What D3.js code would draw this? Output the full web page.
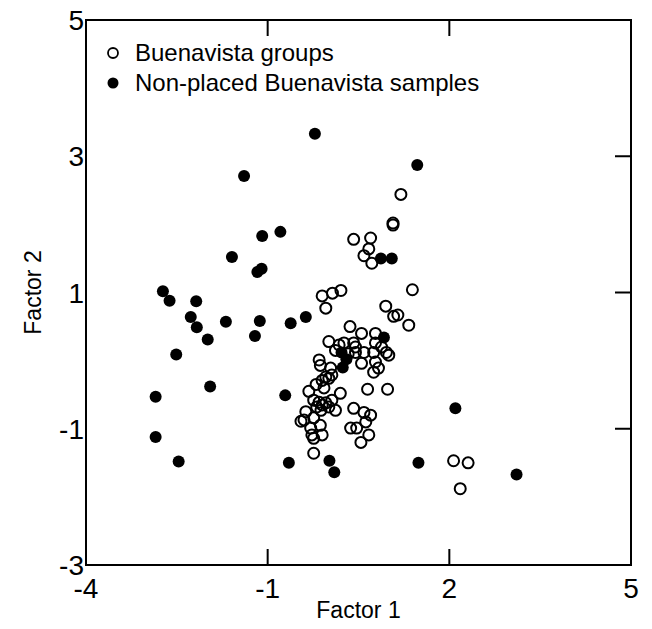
<!DOCTYPE html>
<html>
<head>
<meta charset="utf-8">
<script src="https://cdn.jsdelivr.net/npm/d3@7"></script>
<style>
  body { margin: 0; background: #fff; }
  svg { font-family: "Liberation Sans", Arial, sans-serif; }
</style>
</head>
<body>
<svg id="chart" width="652" height="629"></svg>
<script>
// Factor scores: [factor1, factor2]
const groupSamples = [
  [1.20, 2.44], [1.07, 2.02], [1.07, 1.99], [0.42, 1.78], [0.70, 1.80],
  [0.67, 1.64], [0.59, 1.54], [0.72, 1.43], [1.39, 1.04],
  [-0.10, 0.95], [0.07, 0.99], [0.21, 1.03], [-0.04, 0.77], [0.95, 0.80],
  [1.08, 0.65], [1.15, 0.67], [1.33, 0.52], [0.36, 0.50], [0.55, 0.40], [0.78, 0.40],
  [0.01, 0.28], [0.18, 0.23], [0.26, 0.26], [0.12, 0.15], [0.45, 0.20], [0.42, 0.26],
  [0.45, 0.12], [0.59, 0.12], [0.78, 0.26], [0.75, 0.12], [0.88, 0.20], [0.96, 0.12],
  [1.00, 0.08], [0.55, -0.04], [0.78, -0.02], [0.83, -0.11], [0.75, -0.17], [0.33, 0.10],
  [-0.15, 0.01], [-0.13, -0.07], [0.04, -0.11], [-0.04, -0.24], [-0.10, -0.29],
  [0.01, -0.26], [0.06, -0.21], [0.65, -0.42], [0.98, -0.42], [-0.20, -0.35],
  [-0.32, -0.45], [-0.07, -0.40], [0.20, -0.48], [-0.24, -0.58], [-0.15, -0.61],
  [-0.10, -0.65], [-0.04, -0.62], [-0.19, -0.68], [-0.12, -0.73], [0.01, -0.68],
  [0.06, -0.58], [-0.37, -0.75], [-0.40, -0.87], [-0.24, -0.84], [0.12, -0.73],
  [-0.29, -0.99], [-0.27, -1.09], [-0.13, -0.95], [-0.10, -1.09], [-0.24, -1.14],
  [-0.24, -1.36], [-0.45, -0.89],
  [0.42, -0.70], [0.59, -0.76], [0.70, -0.80], [0.62, -0.90], [0.37, -0.99],
  [0.47, -0.99], [0.67, -1.09], [0.54, -1.20],
  [2.07, -1.47], [2.31, -1.50], [2.18, -1.88]
];

const nonPlaced = [
  [-0.22, 3.33], [1.47, 2.87], [-1.39, 2.71], [-0.79, 1.89], [-1.09, 1.83],
  [-1.59, 1.52], [-1.17, 1.30], [-1.10, 1.35], [-2.73, 1.02], [-2.62, 0.88],
  [-2.18, 0.87], [-2.27, 0.64], [-2.17, 0.49], [-1.99, 0.31], [-1.69, 0.57],
  [-1.13, 0.58], [-1.21, 0.36], [-0.62, 0.55], [-0.37, 0.64], [-2.51, 0.09],
  [-1.95, -0.38], [-2.85, -0.53], [-0.71, -0.51], [-2.85, -1.12], [-2.47, -1.48],
  [-0.65, -1.50], [0.87, 1.50], [1.05, 1.50], [0.02, -1.47], [0.10, -1.64],
  [1.49, -1.50], [2.10, -0.70], [3.11, -1.67], [0.92, 0.34], [0.22, 0.12],
  [0.30, 0.02], [0.24, -0.10]
];

const xTicks = [-4, -1, 2, 5];
const yTicks = [-3, -1, 1, 3, 5];
const legendLabels = ["Buenavista groups", "Non-placed Buenavista samples"];

const L = 86, R = 631, T = 20, B = 565;
const svg = d3.select("#chart");

const x = d3.scaleLinear().domain([-4, 5]).range([L, R]);
const y = d3.scaleLinear().domain([-3, 5]).range([B, T]);

// frame
svg.append("rect")
  .attr("x", L).attr("y", T).attr("width", R - L).attr("height", B - T)
  .attr("fill", "none").attr("stroke", "#000").attr("stroke-width", 2);

// inner ticks (bottom/top/right), labels on left/bottom
const inner = xTicks.slice(1, -1), innerY = yTicks.slice(1, -1);
const tk = 16;
svg.append("g").selectAll("line").data(inner).join("line")
  .attr("x1", d => x(d)).attr("x2", d => x(d)).attr("y1", B).attr("y2", B - tk);
svg.append("g").selectAll("line").data(inner).join("line")
  .attr("x1", d => x(d)).attr("x2", d => x(d)).attr("y1", T).attr("y2", T + tk);
svg.append("g").selectAll("line").data(innerY).join("line")
  .attr("x1", R).attr("x2", R - tk).attr("y1", d => y(d)).attr("y2", d => y(d));
svg.selectAll("line").attr("stroke", "#000").attr("stroke-width", 2);

svg.append("g").selectAll("text").data(xTicks).join("text")
  .attr("x", d => x(d)).attr("y", B + 33)
  .attr("text-anchor", "middle").attr("font-size", 28)
  .text(d => d);
svg.append("g").selectAll("text").data(yTicks).join("text")
  .attr("x", L - 2).attr("y", d => y(d) + 10)
  .attr("text-anchor", "end").attr("font-size", 28)
  .text(d => d);

svg.append("text").attr("x", (L + R) / 2).attr("y", 618)
  .attr("text-anchor", "middle").attr("font-size", 23).text("Factor 1");
svg.append("text").attr("transform", `translate(41,${(T + B) / 2}) rotate(-90)`)
  .attr("text-anchor", "middle").attr("font-size", 23).text("Factor 2");

// points
svg.append("g").selectAll("circle").data(groupSamples).join("circle")
  .attr("cx", d => x(d[0])).attr("cy", d => y(d[1])).attr("r", 5.5)
  .attr("fill", "none").attr("stroke", "#000").attr("stroke-width", 2);
svg.append("g").selectAll("circle").data(nonPlaced).join("circle")
  .attr("cx", d => x(d[0])).attr("cy", d => y(d[1])).attr("r", 6)
  .attr("fill", "#000");

// legend
const leg = svg.append("g").attr("transform", "translate(113,53)");
leg.append("circle").attr("cx", 0).attr("cy", 0).attr("r", 5)
  .attr("fill", "none").attr("stroke", "#000").attr("stroke-width", 1.8);
leg.append("circle").attr("cx", 0).attr("cy", 30).attr("r", 5.5).attr("fill", "#000");
leg.selectAll("text").data(legendLabels).join("text")
  .attr("x", 22).attr("y", (d, i) => i * 30 + 8)
  .attr("font-size", 24).text(d => d);
</script>
</body>
</html>
